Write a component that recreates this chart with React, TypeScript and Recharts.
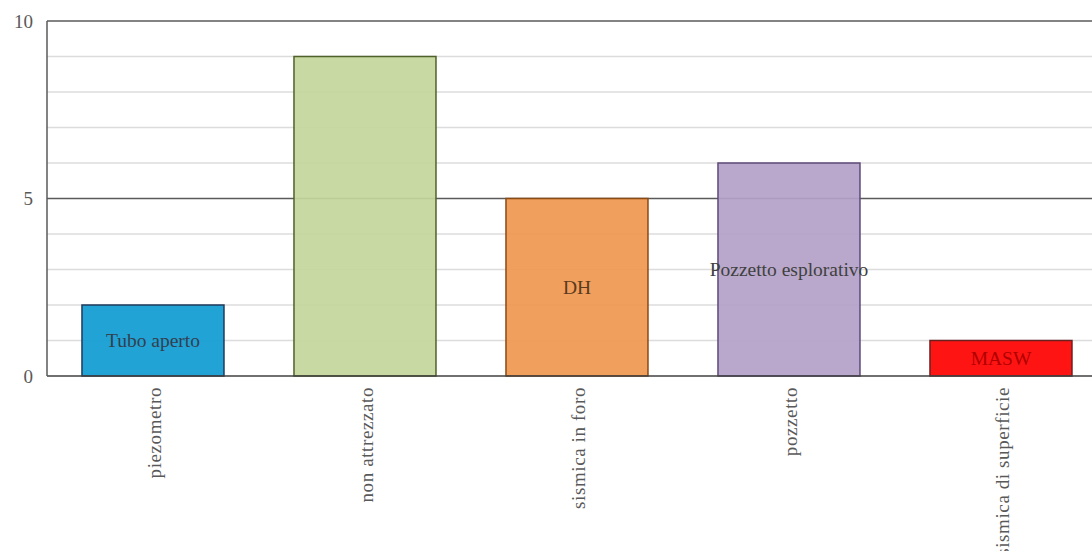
import { BarChart, Bar, XAxis, YAxis, CartesianGrid, Cell, LabelList } from 'recharts'

const categories = ['piezometro', 'non attrezzato', 'sismica in foro', 'pozzetto', 'sismica di superficie']
const counts = [2, 9, 5, 6, 1]
const barLabels = ['Tubo aperto', '', 'DH', 'Pozzetto esplorativo', 'MASW']
const yTicks = [0, 5, 10]
const minorTicks = [1, 2, 3, 4, 6, 7, 8, 9]

const FILLS = ['#0e9bd2', '#c3d69b', '#f0974e', '#b3a1c7', '#ff0000']
const STROKES = ['#1f3a5c', '#4f6228', '#8a4a14', '#5f4a7a', '#6b2020']
const LABEL_COLORS = ['#333f4f', '#404040', '#5a3a20', '#404040', '#b00000']

const data = categories.map((name, i) => ({ name, count: counts[i], label: barLabels[i] }))

const FONT = '"Liberation Serif", "Times New Roman", serif'

function XTick(props: any) {
  const { x, y, payload } = props
  return (
    <text
      x={x + 1}
      y={y + 3}
      transform={`rotate(-90, ${x + 1}, ${y + 3})`}
      textAnchor="end"
      dy="0.35em"
      fill="#595959"
      fontSize={19}
      fontFamily={FONT}
      letterSpacing={0.6}
    >
      {payload.value}
    </text>
  )
}

function BarText(props: any) {
  const { x, y, width, height, value } = props
  if (!value) return null
  const idx = barLabels.indexOf(value)
  return (
    <text
      x={x + width / 2}
      y={y + height / 2}
      textAnchor="middle"
      dominantBaseline="central"
      fill={LABEL_COLORS[idx]}
      fontSize={19.5}
      fontFamily={FONT}
    >
      {value}
    </text>
  )
}

export default function App() {
  return (
    <div style={{ position: 'absolute', left: 0, top: 0, width: 1092, height: 551, overflow: 'hidden', background: '#fff' }}>
      <BarChart
        width={1110}
        height={551}
        data={data}
        margin={{ top: 21, right: 3, left: 0, bottom: 0 }}
        barCategoryGap="16.5%"
      >
        <CartesianGrid vertical={false} horizontalValues={minorTicks} stroke="#dcdcdc" strokeWidth={1.5} />
        <CartesianGrid vertical={false} horizontalValues={[5, 10]} stroke="#5a5a5a" strokeWidth={1.5} />
        <XAxis
          dataKey="name"
          interval={0}
          height={175}
          tickLine={false}
          axisLine={{ stroke: '#404040', strokeWidth: 1.5 }}
          tick={<XTick />}
        />
        <YAxis
          domain={[0, 10]}
          ticks={yTicks}
          width={47}
          tickLine={false}
          tickSize={0}
          tickMargin={14}
          axisLine={{ stroke: '#5a5a5a', strokeWidth: 1.5 }}
          tick={{ fill: '#595959', fontSize: 19, fontFamily: FONT }}
        />
        <Bar dataKey="count" isAnimationActive={false} strokeWidth={1.5} fillOpacity={0.92}>
          {data.map((_, i) => (
            <Cell key={i} fill={FILLS[i]} stroke={STROKES[i]} />
          ))}
          <LabelList dataKey="label" content={<BarText />} />
        </Bar>
      </BarChart>
    </div>
  )
}
